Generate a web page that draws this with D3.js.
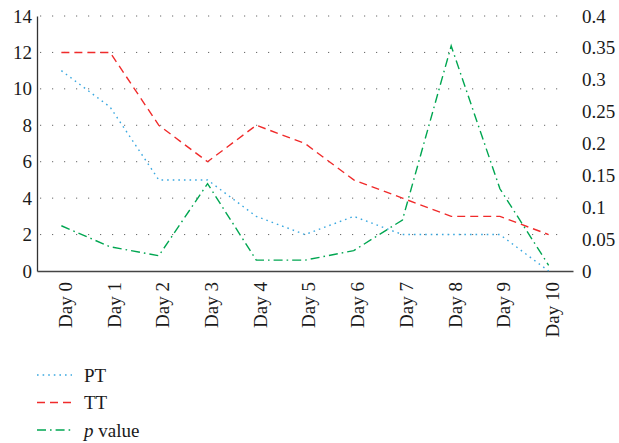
<!DOCTYPE html>
<html>
<head>
<meta charset="utf-8">
<script src="https://cdn.jsdelivr.net/npm/d3@7"></script>
<style>
  body { margin: 0; background: #fff; }
  text { fill: #1a1a1a; }
</style>
</head>
<body>
<div id="chart"></div>
<script>
// DATA

var days = ["Day 0", "Day 1", "Day 2", "Day 3", "Day 4", "Day 5", "Day 6", "Day 7", "Day 8", "Day 9", "Day 10"];
var pt = [11, 9, 5, 5, 3, 2, 3, 2, 2, 2, 0];
var tt = [12, 12, 8, 6, 8, 7, 5, 4, 3, 3, 2];
var pValue = [0.071, 0.038, 0.024, 0.137, 0.017, 0.017, 0.032, 0.08, 0.353, 0.129, 0.009];
var leftTicks = [0, 2, 4, 6, 8, 10, 12, 14];
var rightTicks = [0, 0.05, 0.1, 0.15, 0.2, 0.25, 0.3, 0.35, 0.4];
var legendNames = ["PT", "TT", "p value"];

// D3 CODE

var width = 619;
var height = 443;
var fs = 19;
var font = "Liberation Serif";

var svg = d3.select("#chart")
    .append("svg")
    .attr("width", width)
    .attr("height", height);

var x = d3.scaleBand()
    .domain(days)
    .range([37, 573]);

var y = d3.scaleLinear()
    .domain([0, 14])
    .range([271, 16]);

var y2 = d3.scaleLinear()
    .domain([0, 0.4])
    .range([271, 16]);

// dotted gridlines
svg.selectAll("line.grid")
    .data(leftTicks.slice(1))
    .enter()
    .append("line")
    .attr("class", "grid")
    .attr("x1", 40)
    .attr("x2", 568)
    .attr("y1", function (d) { return y(d); })
    .attr("y2", function (d) { return y(d); })
    .style("stroke", "#666")
    .style("stroke-width", 1)
    .style("stroke-dasharray", "1.2,10.8");

// left axis
var left = svg.append("g")
    .attr("transform", "translate(37,0)")
    .call(d3.axisLeft(y).tickValues(leftTicks).tickSize(0).tickPadding(5));
left.select(".domain").style("stroke", "#333").style("stroke-width", 1.3);
left.selectAll("text")
    .style("font-size", fs + "px")
    .attr("font-family", font)
    .style("fill", "#1a1a1a");

// right axis (labels only)
var right = svg.append("g")
    .attr("transform", "translate(573,0)")
    .call(d3.axisRight(y2).tickValues(rightTicks).tickFormat(function (d) { return String(d); }).tickSize(0).tickPadding(9));
right.select(".domain").remove();
right.selectAll("text")
    .style("font-size", fs + "px")
    .attr("font-family", font)
    .style("fill", "#1a1a1a");

// bottom baseline + rotated day labels
var bottom = svg.append("g")
    .attr("transform", "translate(0,271)")
    .call(d3.axisBottom(x).tickSize(0).tickSizeOuter(0));
bottom.select(".domain").style("stroke", "#444").style("stroke-width", 1.3);
bottom.selectAll("text")
    .attr("transform", "rotate(-90)")
    .attr("text-anchor", "end")
    .attr("x", -11)
    .attr("y", 0)
    .attr("dx", 0)
    .attr("dy", "0.55em")
    .style("font-size", fs + "px")
    .attr("font-family", font)
    .style("fill", "#1a1a1a");

// lines
var series = [
    { values: pt, scale: y, color: "#3aa8e0", dash: "1.6,4" },
    { values: tt, scale: y, color: "#f02b2b", dash: "8,5" },
    { values: pValue, scale: y2, color: "#00a651", dash: "9,4,1.6,4" }
];

series.forEach(function (s) {
    var line = d3.line()
        .x(function (d, i) { return x(days[i]) + x.bandwidth() / 2; })
        .y(function (d) { return s.scale(d); });

    svg.append("path")
        .datum(s.values)
        .attr("d", line)
        .style("fill", "none")
        .style("stroke", s.color)
        .style("stroke-width", 1.4)
        .style("stroke-dasharray", s.dash);
});

// legend
var legend = svg.selectAll("g.legend")
    .data(series)
    .enter()
    .append("g")
    .attr("class", "legend")
    .attr("transform", function (d, i) { return "translate(37," + (375 + i * 27.5) + ")"; });

legend.append("line")
    .attr("x1", 0)
    .attr("x2", 35)
    .style("stroke", function (d) { return d.color; })
    .style("stroke-width", 1.4)
    .style("stroke-dasharray", function (d) { return d.dash; });

legend.append("text")
    .attr("x", 47)
    .attr("dy", "0.35em")
    .attr("font-family", font)
    .style("font-size", fs + "px")
    .each(function (d, i) {
        var t = d3.select(this);
        if (legendNames[i] === "p value") {
            t.append("tspan").style("font-style", "italic").text("p");
            t.append("tspan").text(" value");
        } else {
            t.text(legendNames[i]);
        }
    });
</script>
</body>
</html>
